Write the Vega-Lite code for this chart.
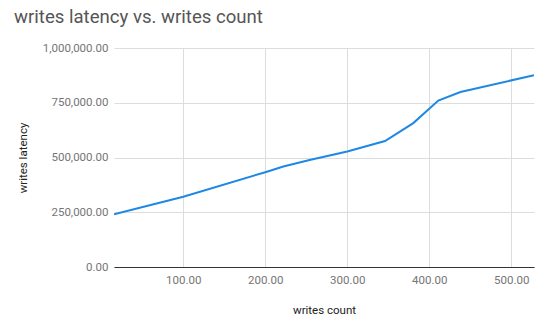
{
  "$schema": "https://vega.github.io/schema/vega-lite/v6.json",
  "autosize": {"type": "none"},
  "width": 420,
  "height": 219,
  "padding": {"left": 114, "top": 48, "right": 16, "bottom": 63},
  "background": "white",
  "title": {
    "text": "writes latency vs. writes count",
    "anchor": "start",
    "frame": "group",
    "dx": -100,
    "fontSize": 18.6,
    "font": "Roboto",
    "fontWeight": "normal",
    "color": "#555555",
    "offset": 15
  },
  "data": {
    "values": [
      {"count": 15.5, "latency": 241000},
      {"count": 100, "latency": 321000},
      {"count": 200, "latency": 433000},
      {"count": 222, "latency": 459000},
      {"count": 254, "latency": 489000},
      {"count": 300, "latency": 527000},
      {"count": 346, "latency": 575000},
      {"count": 380.5, "latency": 657000},
      {"count": 411, "latency": 760000},
      {"count": 438, "latency": 799000},
      {"count": 527.7, "latency": 876000}
    ]
  },
  "mark": {"type": "line", "color": "#1E88E5", "strokeWidth": 2, "clip": true},
  "encoding": {
    "x": {
      "field": "count",
      "type": "quantitative",
      "scale": {"domain": [15.5, 527.7], "nice": false, "zero": false},
      "axis": {
        "title": "writes count",
        "values": [100, 200, 300, 400, 500],
        "format": ",.2f",
        "grid": true,
        "gridColor": "#dddddd",
        "ticks": false,
        "domain": true,
        "domainColor": "#333333",
        "domainWidth": 1,
        "labelFont": "Roboto",
        "labelFontSize": 11.5,
        "labelColor": "#757575",
        "labelPadding": 7,
        "titleFont": "Roboto",
        "titleFontSize": 11.5,
        "titleFontWeight": "normal",
        "titleColor": "#222222",
        "titlePadding": 19
      }
    },
    "y": {
      "field": "latency",
      "type": "quantitative",
      "scale": {"domain": [0, 1000000], "nice": false},
      "axis": {
        "title": "writes latency",
        "values": [0, 250000, 500000, 750000, 1000000],
        "format": ",.2f",
        "grid": true,
        "gridColor": "#dddddd",
        "ticks": false,
        "domain": false,
        "labelFont": "Roboto",
        "labelFontSize": 11.5,
        "labelColor": "#757575",
        "labelPadding": 6,
        "titleFont": "Roboto",
        "titleFontSize": 11.5,
        "titleFontWeight": "normal",
        "titleColor": "#222222",
        "titlePadding": 14
      }
    }
  },
  "config": {"view": {"stroke": null}}
}
